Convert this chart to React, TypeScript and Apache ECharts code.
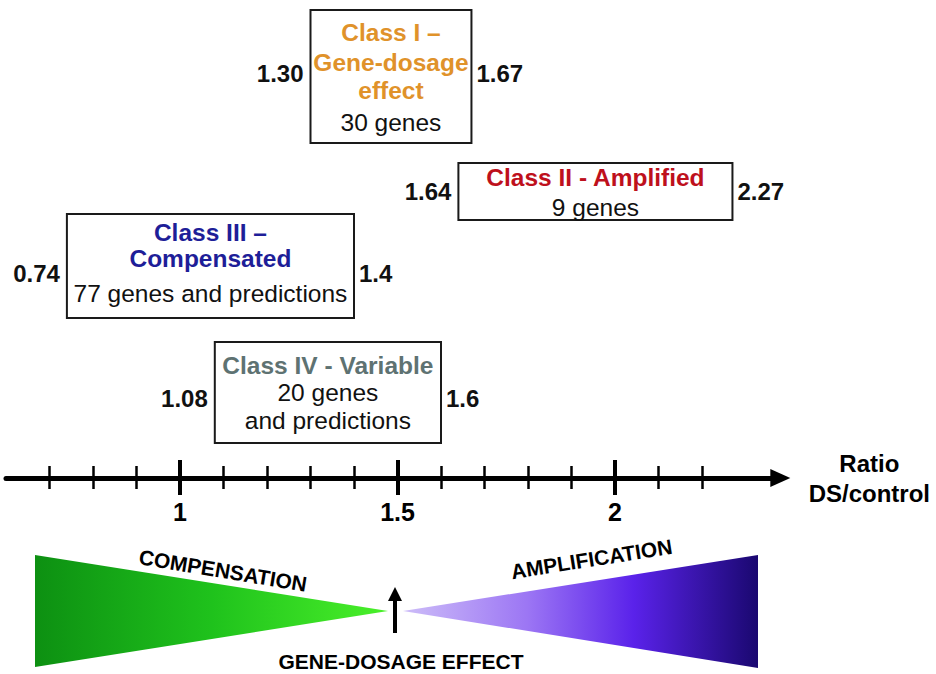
import React, { useEffect, useRef } from 'react';
import * as echarts from 'echarts';

// ---------- data ----------
const CLASS_TITLE_LINES: string[][] = [
  ['Class I –', 'Gene-dosage', 'effect'],
  ['Class II - Amplified'],
  ['Class III –', 'Compensated'],
  ['Class IV - Variable'],
];
const CLASS_DESC_LINES: string[][] = [
  ['30 genes'],
  ['9 genes'],
  ['77 genes and predictions'],
  ['20 genes', 'and predictions'],
];
const RATIO_LOW = [1.30, 1.64, 0.74, 1.08];
const RATIO_HIGH = [1.67, 2.27, 1.4, 1.6];
const LOW_LABELS = ['1.30', '1.64', '0.74', '1.08'];
const HIGH_LABELS = ['1.67', '2.27', '1.4', '1.6'];
const MAJOR_TICKS = [1, 1.5, 2];
const MINOR_TICKS = [0.7, 0.8, 0.9, 1.1, 1.2, 1.3, 1.4, 1.6, 1.7, 1.8, 1.9, 2.1, 2.2];
const AXIS_NAME = 'Ratio\nDS/control';
const SCALE_LABELS = ['COMPENSATION', 'AMPLIFICATION', 'GENE-DOSAGE EFFECT'];

// ---------- styles / layout ----------
const FONT = "'Liberation Sans', Arial, Helvetica, sans-serif";
const CLASS_COLORS = ['#E0922A', '#BE101C', '#1E1E98', '#5E7272'];
const BOX_LAYOUT = [
  { top: 10, bottom: 143, titleY: [32, 62, 90], descY: [122.5], labelY: 73.5 },
  { top: 163, bottom: 220, titleY: [177], descY: [207], labelY: 191 },
  { top: 214, bottom: 318, titleY: [232, 258], descY: [293.5], labelY: 273 },
  { top: 342, bottom: 443, titleY: [365.5], descY: [392.5, 420], labelY: 398.5 },
];

function txt(text: string, x: number, y: number, color: string, weight: string, size: number, align: string) {
  return {
    type: 'text',
    style: {
      text,
      x,
      y,
      fill: color,
      textFill: color,
      font: `${weight} ${size}px ${FONT}`,
      fontSize: size,
      fontWeight: weight,
      fontFamily: FONT,
      align,
      textAlign: align,
      verticalAlign: 'middle',
      textVerticalAlign: 'middle',
    },
  };
}

function rotatedTxt(text: string, x: number, y: number, rotation: number, size: number) {
  const t: any = txt(text, 0, 0, '#000', 'bold', size, 'center');
  t.x = x;
  t.y = y;
  t.rotation = rotation;
  return t;
}

export default function App() {
  const ref = useRef<HTMLDivElement>(null);

  useEffect(() => {
    if (!ref.current) return;
    const chart = echarts.init(ref.current, null, { renderer: 'svg' });

    const baseAxis: any = {
      type: 'value',
      min: 0.6,
      max: 2.38,
      position: 'bottom',
      gridIndex: 0,
      splitLine: { show: false },
      axisLabel: { show: false },
      axisTick: { show: false },
      axisLine: { show: false, onZero: false },
    };

    const option: any = {
      animation: false,
      backgroundColor: '#ffffff',
      grid: {
        left: 6,
        top: 0,
        width: 774.3,
        height: 478,
        containLabel: false,
        outerBoundsMode: 'none',
      },
      xAxis: [
        {
          ...baseAxis,
          axisLine: {
            show: true,
            onZero: false,
            symbol: ['none', 'triangle'],
            symbolSize: [18, 20],
            lineStyle: { color: '#000', width: 5 },
          },
          axisTick: {
            show: true,
            customValues: MAJOR_TICKS,
            inside: false,
            length: 17,
            lineStyle: { color: '#000', width: 4 },
          },
          axisLabel: {
            show: true,
            customValues: MAJOR_TICKS,
            formatter: (v: number) => String(v),
            margin: 21,
            color: '#000',
            fontSize: 25,
            fontWeight: 'bold',
            fontFamily: FONT,
          },
          name: AXIS_NAME,
          nameLocation: 'end',
          nameGap: 89,
          nameTextStyle: {
            color: '#000',
            fontSize: 24,
            fontWeight: 'bold',
            fontFamily: FONT,
            align: 'center',
            verticalAlign: 'middle',
            lineHeight: 30,
            padding: [8, 0, 0, 0],
          },
        },
        {
          ...baseAxis,
          axisTick: {
            show: true,
            customValues: MAJOR_TICKS,
            inside: true,
            length: 18,
            lineStyle: { color: '#000', width: 4 },
          },
        },
        {
          ...baseAxis,
          axisTick: {
            show: true,
            customValues: MINOR_TICKS,
            inside: false,
            length: 11,
            lineStyle: { color: '#000', width: 2.5 },
          },
        },
        {
          ...baseAxis,
          axisTick: {
            show: true,
            customValues: MINOR_TICKS,
            inside: true,
            length: 12,
            lineStyle: { color: '#000', width: 2.5 },
          },
        },
      ],
      yAxis: { type: 'value', min: 0, max: 1, show: false },
      series: [
        {
          type: 'custom',
          xAxisIndex: 0,
          yAxisIndex: 0,
          clip: false,
          silent: true,
          encode: { x: [0, 1] },
          data: RATIO_LOW.map((lo, i) => [lo, RATIO_HIGH[i], i]),
          renderItem: (_params: any, api: any) => {
            const lo = api.value(0);
            const hi = api.value(1);
            const i = api.value(2);
            const x1 = api.coord([lo, 0])[0];
            const x2 = api.coord([hi, 0])[0];
            const L = BOX_LAYOUT[i];
            const cx = (x1 + x2) / 2;
            const children: any[] = [
              {
                type: 'rect',
                shape: { x: x1, y: L.top, width: x2 - x1, height: L.bottom - L.top },
                style: { fill: '#ffffff', stroke: '#1a1a1a', lineWidth: 2 },
              },
            ];
            CLASS_TITLE_LINES[i].forEach((t, k) =>
              children.push(txt(t, cx, L.titleY[k], CLASS_COLORS[i], 'bold', 24.5, 'center'))
            );
            CLASS_DESC_LINES[i].forEach((t, k) =>
              children.push(txt(t, cx, L.descY[k], '#111', 'normal', 24.5, 'center'))
            );
            children.push(txt(LOW_LABELS[i], x1 - 7, L.labelY, '#111', 'bold', 24, 'right'));
            children.push(txt(HIGH_LABELS[i], x2 + 5, L.labelY, '#111', 'bold', 24, 'left'));
            return { type: 'group', children };
          },
        },
      ],
      graphic: [
        {
          type: 'polygon',
          silent: true,
          shape: { points: [[35, 555], [35, 667], [388, 611]] },
          style: {
            fill: new echarts.graphic.LinearGradient(0, 0, 1, 0, [
              { offset: 0, color: '#0D9012' },
              { offset: 0.5, color: '#1FC21C' },
              { offset: 1, color: '#4AF02A' },
            ]),
          },
        },
        {
          type: 'polygon',
          silent: true,
          shape: { points: [[403, 611], [758, 555], [758, 668]] },
          style: {
            fill: new echarts.graphic.LinearGradient(0, 0, 1, 0, [
              { offset: 0, color: '#CDBDF8' },
              { offset: 0.35, color: '#9C76F4' },
              { offset: 0.65, color: '#5A22EA' },
              { offset: 1, color: '#1A0870' },
            ]),
          },
        },
        {
          type: 'line',
          silent: true,
          shape: { x1: 395, y1: 633, x2: 395, y2: 598 },
          style: { stroke: '#000', lineWidth: 4 },
        },
        {
          type: 'polygon',
          silent: true,
          shape: { points: [[388, 601], [402, 601], [395, 587]] },
          style: { fill: '#000' },
        },
        rotatedTxt(SCALE_LABELS[0], 223, 570.5, -0.165, 21),
        rotatedTxt(SCALE_LABELS[1], 591.5, 559, 0.158, 21),
        txt(SCALE_LABELS[2], 401, 661, '#000', 'bold', 21, 'center'),
      ],
    };

    chart.setOption(option);
    return () => chart.dispose();
  }, []);

  return (
    <div
      ref={ref}
      style={{ position: 'fixed', left: 0, top: 0, width: 936, height: 674, background: '#fff' }}
    />
  );
}
